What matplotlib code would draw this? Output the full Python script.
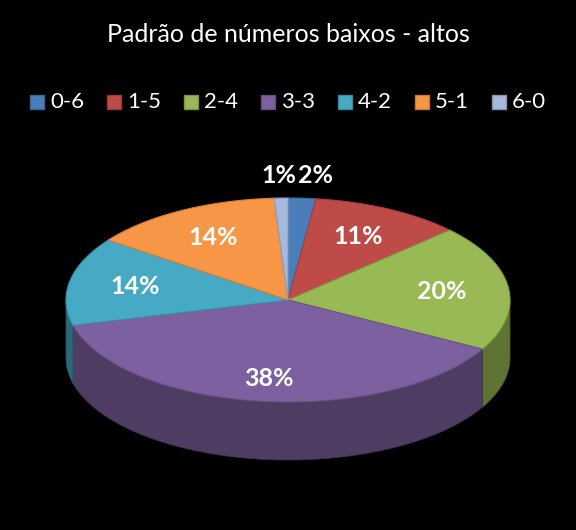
import numpy as np
import matplotlib.pyplot as plt
from matplotlib.patches import Polygon, Rectangle
import matplotlib.colors as mcolors

plt.rcParams['font.family'] = ['Lato', 'DejaVu Sans']

categories = ['0-6', '1-5', '2-4', '3-3', '4-2', '5-1', '6-0']
values = [2, 11, 20, 38, 14, 14, 1]
colors = ['#4a7ebb', '#be4b48', '#98b954', '#7d60a0', '#46aac5', '#f79646', '#a5b9dc']

# ellipse geometry in pixels (y down)
cx, cy = 288, 300
a, b = 222, 102
depth = 58

def pt(theta, r=1.0, dy=0):
    return (cx + r * a * np.sin(theta), cy - r * b * np.cos(theta) + dy)

def darker(c, f):
    r, g, bb = mcolors.to_rgb(c)
    return (r * f, g * f, bb * f)

fig = plt.figure(figsize=(5.76, 5.3), dpi=100, facecolor='black')
ax = fig.add_axes([0, 0, 1, 1])
ax.set_xlim(0, 576)
ax.set_ylim(530, 0)
ax.axis('off')

total = sum(values)
bounds = np.cumsum([0] + values) / total * 2 * np.pi

# side faces (front half only)
for i in range(len(values)):
    t0, t1 = bounds[i], bounds[i + 1]
    lo, hi = max(t0, np.pi / 2), min(t1, 3 * np.pi / 2)
    if lo >= hi:
        continue
    ts = np.linspace(lo, hi, 80)
    top = [pt(t) for t in ts]
    bot = [pt(t, dy=depth) for t in ts[::-1]]
    ax.add_patch(Polygon(top + bot, closed=True, fc=darker(colors[i], 0.62),
                         ec=darker(colors[i], 0.5), lw=0.5))

# top faces
for i in range(len(values)):
    ts = np.linspace(bounds[i], bounds[i + 1], 100)
    poly = [(cx, cy)] + [pt(t) for t in ts]
    ax.add_patch(Polygon(poly, closed=True, fc=colors[i],
                         ec=darker(colors[i], 0.85), lw=0.8))

# labels
for i, v in enumerate(values):
    mid = (bounds[i] + bounds[i + 1]) / 2
    if v < 5:
        y = cy - b * 1.22
        ha = 'left' if mid < np.pi else 'right'
        x = cx + (10 if ha == 'left' else 8)
        ax.text(x, y, f'{v}%', color='white', fontsize=18, fontweight='bold',
                ha=ha, va='center')
    else:
        x, y = pt(mid, 0.7)
        ax.text(x, y + 8 if np.cos(mid) < -0.9 else y, f'{v}%', color='white',
                fontsize=18, fontweight='bold', ha='center', va='center')

# title
ax.text(288, 34, 'Padrão de números baixos - altos', color='white', fontsize=18,
        ha='center', va='center')

# legend
x = 30
for c, lab in zip(colors, categories):
    ax.add_patch(Rectangle((x, 95), 14, 14, fc=c, ec=darker(c, 0.8)))
    ax.text(x + 20, 102, lab, color='white', fontsize=16, ha='left', va='center')
    x += 77

fig.savefig('out.png', dpi=100, facecolor='black')
